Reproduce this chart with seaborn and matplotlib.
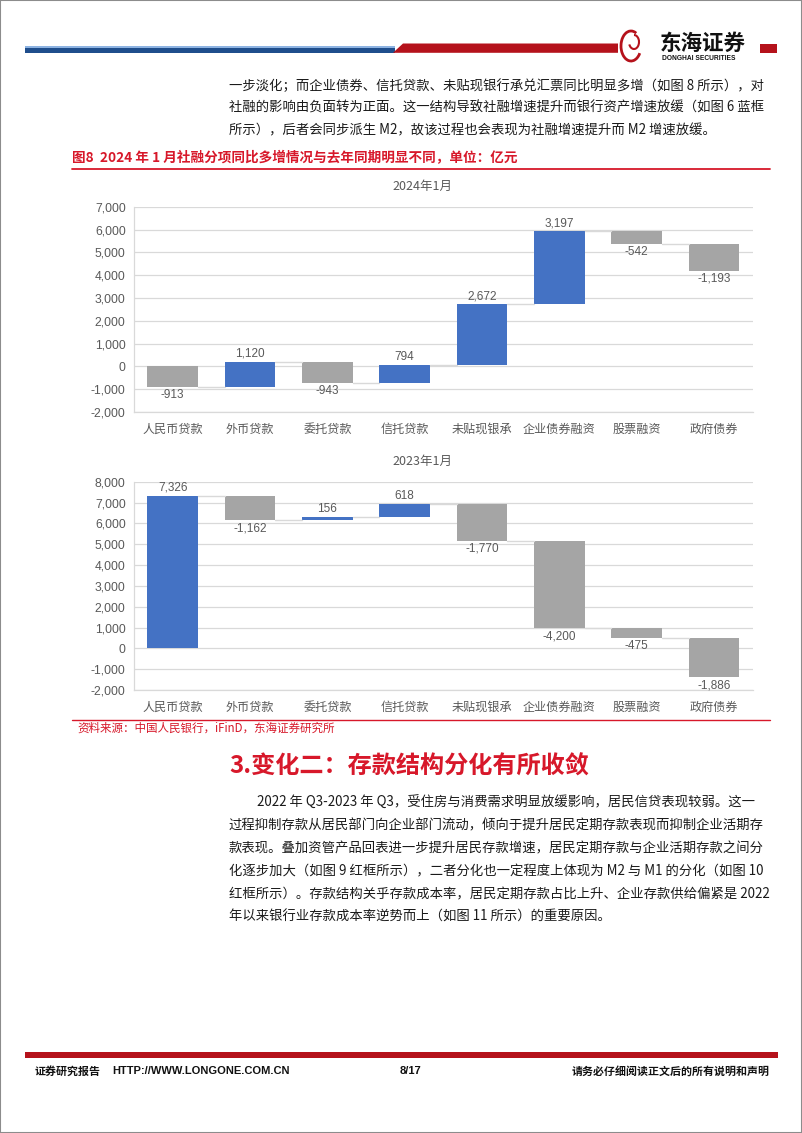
import numpy as np
import pandas as pd
import matplotlib
matplotlib.use('Agg')
import matplotlib.pyplot as plt
from matplotlib.patches import Rectangle, Polygon, Arc
from matplotlib.lines import Line2D
from matplotlib.ticker import FuncFormatter, FixedLocator
import seaborn as sns

# data
cats = ['人民币贷款', '外币贷款', '委托贷款', '信托贷款', '未贴现银承', '企业债券融资', '股票融资', '政府债券']
vals_2024 = [-913, 1120, -943, 794, 2672, 3197, -542, -1193]
vals_2023 = [7326, -1162, 156, 618, -1770, -4200, -475, -1886]
yticks_2024 = list(range(-2000, 7001, 1000))
yticks_2023 = list(range(-2000, 8001, 1000))

para1 = ['一步淡化；而企业债券、信托贷款、未贴现银行承兑汇票同比明显多增（如图 8 所示），对',
         '社融的影响由负面转为正面。这一结构导致社融增速提升而银行资产增速放缓（如图 6 蓝框',
         '所示），后者会同步派生 M2，故该过程也会表现为社融增速提升而 M2 增速放缓。']
para2 = ['2022 年 Q3-2023 年 Q3，受住房与消费需求明显放缓影响，居民信贷表现较弱。这一',
         '过程抑制存款从居民部门向企业部门流动，倾向于提升居民定期存款表现而抑制企业活期存',
         '款表现。叠加资管产品回表进一步提升居民存款增速，居民定期存款与企业活期存款之间分',
         '化逐步加大（如图 9 红框所示），二者分化也一定程度上体现为 M2 与 M1 的分化（如图 10',
         '红框所示）。存款结构关乎存款成本率，居民定期存款占比上升、企业存款供给偏紧是 2022',
         '年以来银行业存款成本率逆势而上（如图 11 所示）的重要原因。']

sns.set_style('white')
plt.rcParams['font.family'] = ['Noto Sans CJK SC', 'DejaVu Sans']

BLUE = '#4472C4'
GREY = '#A5A5A5'
RED = '#D7182A'
DARKRED = '#B5121B'
TXT = '#595959'
GRID = '#D9D9D9'
NUMFONT = ['Liberation Sans', 'Noto Sans CJK SC']

W, H = 802, 1133
fig = plt.figure(figsize=(W / 100, H / 100), dpi=100)


def fx(x):
    return x / W


def fy(y):
    return 1 - y / H


def ftext(x, y, s, **kw):
    fig.text(fx(x), fy(y), s, **kw)


def frect(x0, y0, x1, y1, color):
    fig.patches.append(Rectangle((fx(x0), fy(y1)), fx(x1) - fx(x0), fy(y0) - fy(y1),
                                 transform=fig.transFigure, color=color, lw=0))


def fline(x0, x1, y, color, lw):
    fig.lines.append(Line2D([fx(x0), fx(x1)], [fy(y), fy(y)], transform=fig.transFigure,
                            color=color, lw=lw))


# page frame
fig.patches.append(Rectangle((0, 0), 1, 1, transform=fig.transFigure, fill=False,
                             edgecolor='#8c8c8c', lw=1.5))

# header bars
frect(25, 46.5, 395, 52.8, '#1F4E8C')
frect(25, 46.5, 395, 47.6, '#8DB3E2')
fig.patches.append(Polygon([(fx(393), fy(52.8)), (fx(403), fy(43.5)), (fx(618), fy(43.5)),
                            (fx(618), fy(52.8))], closed=True, transform=fig.transFigure,
                           color=DARKRED, lw=0))
frect(760, 43.5, 777, 52.8, DARKRED)
# logo
fig.patches.append(Arc((fx(631), fy(46)), 20 / W, 30 / H, theta1=60, theta2=330,
                       transform=fig.transFigure, color=DARKRED, lw=2))
fig.patches.append(Arc((fx(634), fy(42)), 10 / W, 14 / H, theta1=200, theta2=90,
                       transform=fig.transFigure, color=DARKRED, lw=1.5))
ftext(660, 43, '东海证券', fontsize=15.5, fontweight='bold', color='#111111', va='center')
ftext(662, 58, 'DONGHAI SECURITIES', fontsize=4.8, fontweight='bold', color='#111111',
      va='center', family=NUMFONT)

# top paragraph
for i, line in enumerate(para1):
    ftext(229, 86 + i * 22, line, fontsize=9.6, color='#1a1a1a', va='center')

# figure title
ftext(72, 158, '图8  2024 年 1 月社融分项同比多增情况与去年同期明显不同，单位：亿元',
      fontsize=9.8, fontweight='bold', color=RED, va='center')
fline(72, 770, 169, RED, 1.3)


def waterfall(rect, vals, yticks, title, title_y):
    ax = fig.add_axes(rect)
    vals = np.array(vals)
    ends = np.cumsum(vals)
    starts = ends - vals
    df = pd.DataFrame({'cat': cats, 'delta': vals})
    sns.barplot(data=df, x='cat', y='delta', bottom=starts, width=0.655, ax=ax,
                color=BLUE, saturation=1, errorbar=None)
    for p, v in zip(ax.patches, vals):
        p.set_facecolor(BLUE if v > 0 else GREY)
        p.set_edgecolor('none')
    # connectors
    for i in range(len(vals) - 1):
        ax.plot([i + 0.3275, i + 1 - 0.3275], [ends[i], ends[i]], color=GRID, lw=1, zorder=1)
    # labels
    for i, (v, e) in enumerate(zip(vals, ends)):
        if v > 0:
            ax.annotate(f'{v:,}', (i, e), xytext=(0, 1.5), textcoords='offset points',
                        ha='center', va='bottom', fontsize=8.5, color=TXT, family=NUMFONT)
        else:
            ax.annotate(f'{v:,}', (i, e), xytext=(0, -1.5), textcoords='offset points',
                        ha='center', va='top', fontsize=8.5, color=TXT, family=NUMFONT)
    ax.set_xlim(-0.5, len(cats) - 0.5)
    ax.set_ylim(yticks[0], yticks[-1])
    ax.set_yticks(yticks)
    ax.yaxis.set_major_formatter(FuncFormatter(lambda v, _: f'{int(v):,}'))
    ax.yaxis.grid(True, color=GRID, lw=0.9)
    ax.set_axisbelow(True)
    ax.set_xlabel('')
    ax.set_ylabel('')
    for s in ['top', 'right']:
        ax.spines[s].set_visible(False)
    for s in ['left', 'bottom']:
        ax.spines[s].set_color(GRID)
        ax.spines[s].set_linewidth(0.9)
    ax.tick_params(axis='y', length=0, pad=6, labelsize=8.7, labelcolor=TXT)
    ax.tick_params(axis='x', which='major', length=0, pad=8, labelsize=8.7, labelcolor=TXT)
    ax.xaxis.set_minor_locator(FixedLocator(np.arange(-0.5, len(cats), 1.0)))
    ax.tick_params(axis='x', which='minor', length=4, color=GRID, width=0.9)
    for lab in ax.get_yticklabels():
        lab.set_family(NUMFONT)
    ftext(422, title_y, title, fontsize=9, color=TXT, ha='center', va='center')
    return ax


waterfall([fx(134), fy(412), fx(752.7) - fx(134), fy(206.7) - fy(412)],
          vals_2024, yticks_2024, '2024年1月', 186)
waterfall([fx(134), fy(690), fx(752.7) - fx(134), fy(481.7) - fy(690)],
          vals_2023, yticks_2023, '2023年1月', 461)

# source
fline(72, 770, 720, RED, 1.0)
ftext(77, 728, '资料来源：中国人民银行，iFinD，东海证券研究所', fontsize=8.3, color=RED, va='center')

# section heading
ftext(229, 767, '3.变化二：存款结构分化有所收敛', fontsize=17.4, fontweight='bold',
      color=RED, va='center')

# second paragraph
for i, line in enumerate(para2):
    x = 257 if i == 0 else 229
    ftext(x, 803 + i * 22.8, line, fontsize=9.6, color='#1a1a1a', va='center')

# footer
frect(25, 1052, 778, 1058, DARKRED)
ftext(35, 1071, '证券研究报告', fontsize=7.9, fontweight='bold', color='#111111', va='center')
ftext(112, 1071, 'HTTP://WWW.LONGONE.COM.CN', fontsize=8, fontweight='bold', color='#111111',
      va='center', family=NUMFONT)
ftext(400, 1071, '8/17', fontsize=8, fontweight='bold', color='#111111', va='center',
      family=NUMFONT)
ftext(770, 1071, '请务必仔细阅读正文后的所有说明和声明', fontsize=7.9, fontweight='bold',
      color='#111111', va='center', ha='right')

fig.savefig('out.png', dpi=100)
